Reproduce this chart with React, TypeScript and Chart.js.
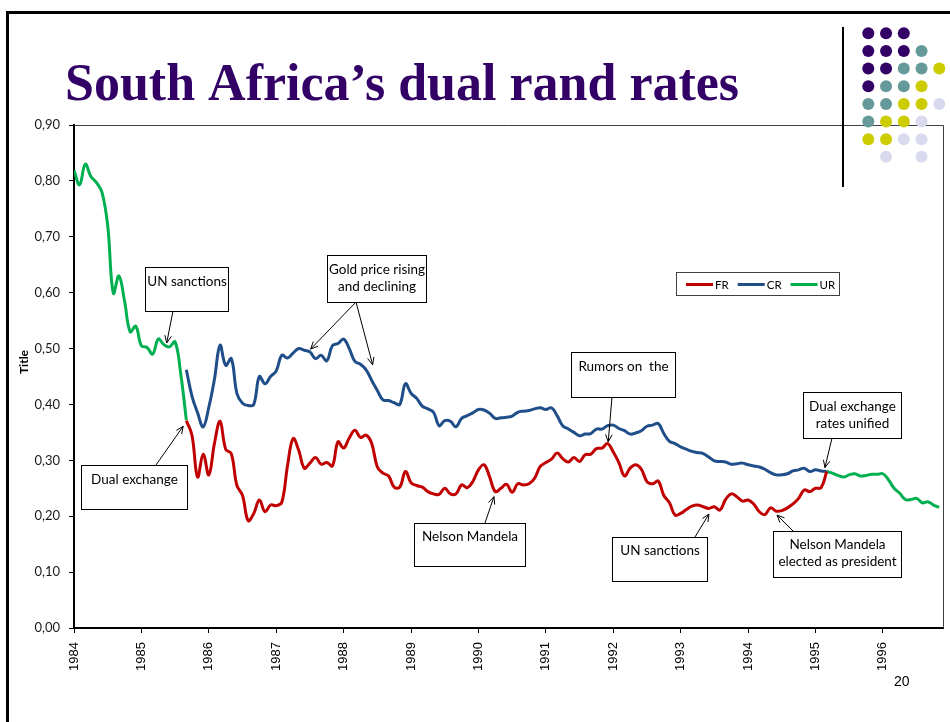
import React, { useEffect, useRef } from "react";
import { Chart, registerables } from "chart.js";

Chart.register(...registerables);

// ---------- data ----------
const START_YEAR = 1984;
const TITLE = "South Africa\u2019s dual rand rates";
const Y_TITLE = "Title";
const PAGE_NUMBER = "20";
const X_TICK_LABELS = ["1984", "1985", "1986", "1987", "1988", "1989", "1990", "1991", "1992", "1993", "1994", "1995", "1996"];
const Y_TICK_LABELS = ["0,00", "0,10", "0,20", "0,30", "0,40", "0,50", "0,60", "0,70", "0,80", "0,90"];
const SERIES_NAMES = ["FR", "CR", "UR"];
const LAST_MONTH = 154.7; // months after Jan 1984 at the right edge of the axis

// unified rand, Jan 1984 – Sep 1985 (monthly)
const UR_EARLY_START = 0;
const UR_EARLY = [0.819, 0.793, 0.830, 0.808, 0.797, 0.779, 0.720, 0.599, 0.630, 0.585, 0.530, 0.540, 0.505, 0.502, 0.490, 0.517, 0.507, 0.503, 0.512, 0.455, 0.372];

// financial rand, Sep 1985 – Mar 1995 (monthly)
const FR_START = 20;
const FR = [
  0.371, 0.345, 0.270, 0.311, 0.274, 0.330, 0.370, 0.320, 0.312, 0.255,
  0.237, 0.192, 0.205, 0.229, 0.208, 0.220, 0.219, 0.225, 0.290, 0.339,
  0.318, 0.286, 0.295, 0.305, 0.293, 0.296, 0.290, 0.333, 0.322, 0.340,
  0.354, 0.341, 0.345, 0.330, 0.288, 0.277, 0.272, 0.252, 0.252, 0.280,
  0.260, 0.255, 0.252, 0.244, 0.240, 0.239, 0.250, 0.240, 0.240, 0.256,
  0.251, 0.262, 0.283, 0.292, 0.270, 0.244, 0.250, 0.257, 0.243, 0.258,
  0.256, 0.258, 0.268, 0.289, 0.296, 0.302, 0.313, 0.303, 0.297, 0.305,
  0.298, 0.310, 0.311, 0.321, 0.322, 0.330, 0.315, 0.296, 0.272, 0.286,
  0.292, 0.284, 0.262, 0.258, 0.263, 0.237, 0.224, 0.202, 0.205, 0.212,
  0.218, 0.220, 0.217, 0.214, 0.217, 0.211, 0.230, 0.240, 0.235, 0.227,
  0.229, 0.222, 0.208, 0.203, 0.215, 0.209, 0.210, 0.215, 0.222, 0.232,
  0.247, 0.244, 0.250, 0.251, 0.280,
];

// commercial rand, Sep 1985 – Mar 1995 (monthly)
const CR_START = 20;
const CR = [
  0.462, 0.415, 0.385, 0.360, 0.395, 0.445, 0.506, 0.470, 0.482, 0.420,
  0.402, 0.398, 0.400, 0.450, 0.437, 0.450, 0.460, 0.488, 0.483, 0.492,
  0.500, 0.497, 0.494, 0.482, 0.488, 0.478, 0.505, 0.509, 0.517, 0.500,
  0.477, 0.472, 0.462, 0.443, 0.425, 0.408, 0.407, 0.403, 0.400, 0.437,
  0.420, 0.411, 0.397, 0.392, 0.386, 0.362, 0.371, 0.370, 0.360, 0.375,
  0.380, 0.385, 0.391, 0.390, 0.384, 0.375, 0.376, 0.377, 0.379, 0.386,
  0.388, 0.389, 0.392, 0.394, 0.391, 0.394, 0.380, 0.362, 0.356, 0.350,
  0.344, 0.347, 0.348, 0.356, 0.356, 0.362, 0.363, 0.357, 0.353, 0.347,
  0.349, 0.353, 0.361, 0.363, 0.366, 0.348, 0.334, 0.330, 0.324, 0.320,
  0.316, 0.314, 0.312, 0.306, 0.299, 0.298, 0.297, 0.293, 0.294, 0.295,
  0.292, 0.290, 0.288, 0.284, 0.278, 0.274, 0.274, 0.276, 0.281, 0.283,
  0.286, 0.280, 0.283, 0.281, 0.280,
];

// unified rand again, Mar 1995 – Nov 1996 (monthly)
const UR_LATE_START = 134;
const UR_LATE = [0.280, 0.277, 0.273, 0.270, 0.274, 0.276, 0.272, 0.273, 0.275, 0.275, 0.276, 0.265, 0.250, 0.241, 0.230, 0.230, 0.232, 0.224, 0.226, 0.220, 0.216];

// ---------- styles ----------
const RED = "#C00000";
const BLUE = "#1F4E89";
const GREEN = "#00B050";
const PURPLE = "#330066";
const DOT_COLORS: Record<string, string> = { P: "#330066", T: "#669999", Y: "#CCCC00", L: "#DADAEE" };
const DOT_ROWS = ["PPP  ", "PPPT ", "PPTTY", "PTTY ", "TTYYL", "TYYL ", "YYLL ", " L L "];

type Note = { lines: string[]; box: [number, number, number, number]; textY: number; from: [number, number]; to: [number, number][] };
const NOTES: Note[] = [
  { lines: ["UN sanctions"], box: [145, 267, 83, 44], textY: 282, from: [173, 311], to: [[1985.375, 0.51]] },
  { lines: ["Dual exchange"], box: [81, 465, 106, 44], textY: 480, from: [156, 465], to: [[1985.62, 0.361]] },
  { lines: ["Gold price rising", "and declining"], box: [327, 255, 99, 47], textY: 270, from: [356, 302], to: [[1987.51, 0.499], [1988.43, 0.471]] },
  { lines: ["Rumors on  the"], box: [571, 352, 104, 45], textY: 367, from: [612, 397], to: [[1991.925, 0.333]] },
  { lines: ["Dual exchange", "rates unified"], box: [803, 392, 98, 46], textY: 407, from: [832, 438], to: [[1995.14, 0.287]] },
  { lines: ["Nelson Mandela"], box: [414, 523, 111, 43], textY: 537, from: [485, 523], to: [[1990.23, 0.235]] },
  { lines: ["UN sanctions"], box: [612, 537, 95, 44], textY: 551, from: [695, 537], to: [[1993.42, 0.204]] },
  { lines: ["Nelson Mandela", "elected as president"], box: [773, 531, 128, 46], textY: 545, from: [793, 531], to: [[1994.43, 0.202]] },
];

function toPoints(start: number, values: number[]) {
  return values.map((v, k) => ({ x: START_YEAR + (start + k) / 12, y: v }));
}

function drawArrow(ctx: CanvasRenderingContext2D, x1: number, y1: number, x2: number, y2: number) {
  const a = Math.atan2(y2 - y1, x2 - x1);
  const len = 8;
  const spread = 0.42;
  ctx.beginPath();
  ctx.moveTo(x1, y1);
  ctx.lineTo(x2, y2);
  ctx.moveTo(x2 - len * Math.cos(a - spread), y2 - len * Math.sin(a - spread));
  ctx.lineTo(x2, y2);
  ctx.lineTo(x2 - len * Math.cos(a + spread), y2 - len * Math.sin(a + spread));
  ctx.stroke();
}

const decorPlugin = {
  id: "decor",
  beforeDatasetsDraw(chart: any) {
    const ctx: CanvasRenderingContext2D = chart.ctx;
    const ca = chart.chartArea;
    ctx.save();
    ctx.strokeStyle = "#404040";
    ctx.lineWidth = 1;
    ctx.beginPath();
    ctx.moveTo(ca.left, Math.round(ca.top) + 0.5);
    ctx.lineTo(Math.round(ca.right) + 0.5, Math.round(ca.top) + 0.5);
    ctx.lineTo(Math.round(ca.right) + 0.5, ca.bottom);
    ctx.stroke();
    ctx.restore();
  },
  afterDraw(chart: any) {
    const ctx: CanvasRenderingContext2D = chart.ctx;
    const xs = chart.scales.x;
    const ys = chart.scales.y;
    ctx.save();

    // slide frame
    ctx.fillStyle = "#000";
    ctx.fillRect(6, 11, 944, 3);
    ctx.fillRect(6, 11, 3, 711);
    ctx.fillRect(842, 27, 2, 160);

    // dot grid
    DOT_ROWS.forEach((row, r) => {
      row.split("").forEach((c, col) => {
        if (c === " ") return;
        ctx.fillStyle = DOT_COLORS[c];
        ctx.beginPath();
        ctx.arc(868.3 + col * 17.75, 33.3 + r * 17.65, 6, 0, Math.PI * 2);
        ctx.fill();
      });
    });

    // title
    ctx.fillStyle = PURPLE;
    ctx.font = 'bold 52px "Liberation Serif", "Times New Roman", serif';
    ctx.textAlign = "left";
    ctx.textBaseline = "alphabetic";
    ctx.fillText(TITLE, 65, 100);

    // y axis title
    ctx.save();
    ctx.translate(24, 362);
    ctx.rotate(-Math.PI / 2);
    ctx.fillStyle = "#000";
    ctx.font = "bold 12px Lato";
    ctx.textAlign = "center";
    ctx.textBaseline = "middle";
    ctx.fillText(Y_TITLE, 0, 0);
    ctx.restore();

    // page number
    ctx.fillStyle = "#000";
    ctx.font = '14px "Liberation Sans", Arial';
    ctx.textAlign = "left";
    ctx.textBaseline = "alphabetic";
    ctx.fillText(PAGE_NUMBER, 894, 686);

    // legend
    ctx.strokeStyle = "#404040";
    ctx.lineWidth = 1;
    ctx.strokeRect(676.5, 272.5, 163, 23);
    ctx.font = "11.5px Lato";
    ctx.textBaseline = "middle";
    let lx = 686;
    chart.data.datasets.forEach((ds: any) => {
      ctx.strokeStyle = ds.borderColor;
      ctx.lineWidth = 3;
      ctx.beginPath();
      ctx.moveTo(lx, 284.5);
      ctx.lineTo(lx + 27, 284.5);
      ctx.stroke();
      ctx.fillStyle = "#000";
      ctx.fillText(ds.label, lx + 29, 285);
      lx += 29 + ctx.measureText(ds.label).width + 9;
    });

    // annotations
    ctx.font = "13.5px Lato";
    ctx.textAlign = "center";
    ctx.textBaseline = "middle";
    NOTES.forEach((n) => {
      const [bx, by, bw, bh] = n.box;
      ctx.fillStyle = "#fff";
      ctx.fillRect(bx, by, bw, bh);
      ctx.strokeStyle = "#000";
      ctx.lineWidth = 1;
      ctx.strokeRect(bx + 0.5, by + 0.5, bw, bh);
      ctx.fillStyle = "#000";
      n.lines.forEach((l, i) => ctx.fillText(l, bx + bw / 2 + 0.5, n.textY + i * 17));
      n.to.forEach(([tx, tv]) => {
        drawArrow(ctx, n.from[0], n.from[1], xs.getPixelForValue(tx), ys.getPixelForValue(tv));
      });
    });

    ctx.restore();
  },
};

export default function App() {
  const canvasRef = useRef<HTMLCanvasElement | null>(null);

  useEffect(() => {
    const canvas = canvasRef.current;
    if (!canvas) return;
    const urPoints: any[] = [
      ...toPoints(UR_EARLY_START, UR_EARLY),
      { x: START_YEAR + (UR_EARLY_START + UR_EARLY.length) / 12, y: null },
      ...toPoints(UR_LATE_START, UR_LATE),
    ];
    const common = { pointRadius: 0, borderWidth: 3, tension: 0.4, fill: false };
    const chart = new Chart(canvas, {
      type: "line",
      data: {
        datasets: [
          { ...common, label: SERIES_NAMES[0], data: toPoints(FR_START, FR), borderColor: RED, backgroundColor: RED },
          { ...common, label: SERIES_NAMES[1], data: toPoints(CR_START, CR), borderColor: BLUE, backgroundColor: BLUE },
          { ...common, label: SERIES_NAMES[2], data: urPoints, borderColor: GREEN, backgroundColor: GREEN, spanGaps: false },
        ],
      },
      options: {
        responsive: false,
        animation: false,
        parsing: false as any,
        normalized: true,
        layout: { padding: { top: 125, right: 7, left: 0, bottom: 0 } },
        plugins: { legend: { display: false }, tooltip: { enabled: false }, title: { display: false } },
        scales: {
          x: {
            type: "linear",
            min: START_YEAR,
            max: START_YEAR + LAST_MONTH / 12,
            afterBuildTicks: (s: any) => {
              s.ticks = X_TICK_LABELS.map((l) => ({ value: Number(l) }));
            },
            afterFit: (s: any) => {
              s.height = 94;
            },
            grid: { drawOnChartArea: false, drawTicks: true, tickLength: 5, color: "#000", lineWidth: 1 },
            border: { display: true, color: "#000", width: 2 },
            ticks: {
              autoSkip: false,
              minRotation: 90,
              maxRotation: 90,
              padding: 9,
              color: "#000",
              font: { family: '"Liberation Sans", Arial', size: 13 },
              callback: (_v: any, i: number) => X_TICK_LABELS[i],
            },
          },
          y: {
            type: "linear",
            min: 0,
            max: 0.9,
            afterBuildTicks: (s: any) => {
              s.ticks = Y_TICK_LABELS.map((l) => ({ value: Number(l.replace(",", ".")) }));
            },
            afterFit: (s: any) => {
              s.width = 74;
            },
            grid: { drawOnChartArea: false, drawTicks: true, tickLength: 5, color: "#000", lineWidth: 1 },
            border: { display: true, color: "#000", width: 2 },
            ticks: {
              autoSkip: false,
              padding: 9,
              color: "#1a1a1a",
              font: { family: "Lato", size: 13 },
              callback: (_v: any, i: number) => Y_TICK_LABELS[i],
            },
          },
        },
      },
      plugins: [decorPlugin],
    });
    return () => chart.destroy();
  }, []);

  return (
    <div style={{ position: "absolute", left: 0, top: 0, width: 950, height: 722, background: "#fff" }}>
      <canvas ref={canvasRef} width={950} height={722} style={{ display: "block" }} />
    </div>
  );
}
